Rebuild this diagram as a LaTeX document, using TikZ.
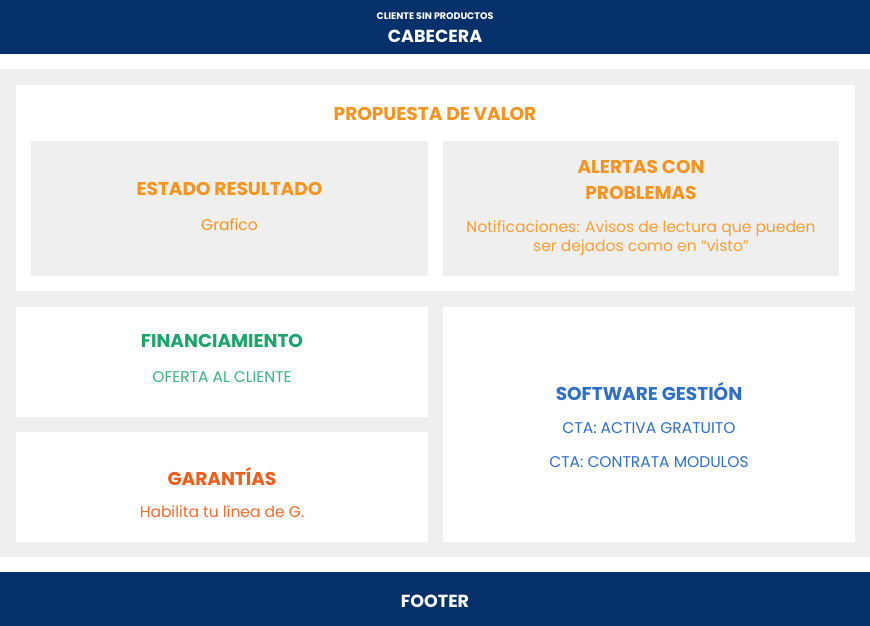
\documentclass[tikz,border=0pt]{standalone}
\usepackage{fontspec}
\setmainfont{Poppins}
\usepackage{xcolor}
\usepackage{tikz}
\usetikzlibrary{positioning}
\definecolor{navyhead}{HTML}{06306A}
\definecolor{panelgray}{HTML}{EFEFEF}
\definecolor{valorange}{HTML}{F7941D}
\definecolor{fingreen}{HTML}{1BA56B}
\definecolor{garred}{HTML}{F25C19}
\definecolor{softblue}{HTML}{2F6FC8}

\begin{document}
\begin{tikzpicture}[x=1pt, y=-1pt]
    \tikzstyle{block} = [rectangle, draw=none, inner sep=0pt, anchor=north west]
    \tikzstyle{title} = [inner sep=0pt, align=center, font=\fontsize{18.5}{26}\selectfont\bfseries]
    \tikzstyle{body} = [inner sep=0pt, align=center, font=\fontsize{15.5}{18.5}\selectfont]

    \useasboundingbox (0,0) rectangle (870,626);
    \fill[white] (0,0) rectangle (870,626);

    % header and footer
    \node (head) [block, fill=navyhead, minimum width=870pt, minimum height=54pt] at (0,0) {};
    \node (cliente) [inner sep=0pt, white, font=\fontsize{9.5}{11}\selectfont\bfseries] at (435,16) {CLIENTE SIN PRODUCTOS};
    \node (cabecera) [title, white, font=\fontsize{17.5}{20}\selectfont\bfseries] at (435,36) {CABECERA};
    \node (back) [block, fill=panelgray, minimum width=870pt, minimum height=488pt] at (0,69) {};
    \node (foot) [block, fill=navyhead, minimum width=870pt, minimum height=54pt] at (0,572) {};
    \node (footer) [title, white, font=\fontsize{17.5}{20}\selectfont\bfseries] at (435,601) {FOOTER};

    % propuesta de valor
    \node (valor) [block, fill=white, minimum width=839pt, minimum height=206pt] at (16,85) {};
    \node (valortxt) [title, valorange] at (435,114) {PROPUESTA DE VALOR};
    \node (estado) [block, fill=panelgray, minimum width=397pt, minimum height=135pt] at (31,141) {};
    \node (estadotxt) [title, valorange] at (229.5,189) {ESTADO RESULTADO};
    \node (grafico) [body, valorange] at (229.5,225) {Grafico};
    \node (alertas) [block, fill=panelgray, minimum width=396pt, minimum height=135pt] at (443,141) {};
    \node (alertastxt) [title, valorange] at (641,180) {ALERTAS CON\\PROBLEMAS};
    \node (notif) [body, valorange!90] at (641,238) {Notificaciones: Avisos de lectura que pueden\\ser dejados como en ``visto''};

    % financiamiento
    \node (fin) [block, fill=white, minimum width=412pt, minimum height=110pt] at (16,307) {};
    \node (fintxt) [title, fingreen] at (222,341) {FINANCIAMIENTO};
    \node (oferta) [body, fingreen!85] at (222,377) {OFERTA AL CLIENTE};

    % garantias
    \node (gar) [block, fill=white, minimum width=412pt, minimum height=110pt] at (16,432) {};
    \node (gartxt) [title, garred] at (222,477) {GARANTÍAS};
    \node (habilita) [body, garred!90] at (222,512) {Habilita tu línea de G.};

    % software
    \node (soft) [block, fill=white, minimum width=412pt, minimum height=235pt] at (443,307) {};
    \node (softtxt) [title, softblue] at (649,392) {SOFTWARE GESTIÓN};
    \node (activa) [body, softblue] at (649,428) {CTA: ACTIVA GRATUITO};
    \node (contrata) [body, softblue] at (649,462) {CTA: CONTRATA MODULOS};
\end{tikzpicture}
\end{document}
